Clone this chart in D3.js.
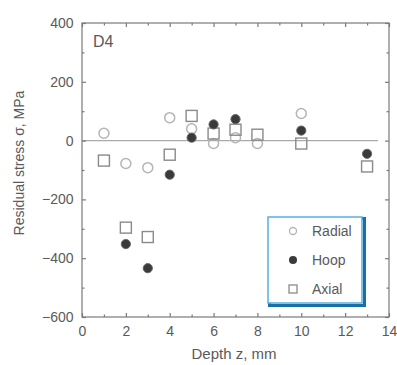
<!DOCTYPE html>
<html>
<head>
<meta charset="utf-8">
<script src="https://cdn.jsdelivr.net/npm/d3@7"></script>
<style>
  body { margin: 0; background: #fff; }
  text { font-family: "Liberation Sans", Arial, sans-serif; fill: #5a5a5a; }
</style>
</head>
<body>
<div id="canvas"></div>
<script>
// values
const radialDepth = [1, 2, 3, 4, 5, 6, 7, 8, 10];
const radialStress = [25, -78, -92, 78, 40, -10, 10, -10, 92];
const hoopDepth = [2, 3, 4, 5, 6, 7, 10, 13];
const hoopStress = [-352, -434, -116, 10, 55, 73, 34, -45];
const axialDepth = [1, 2, 3, 4, 5, 6, 7, 8, 10, 13];
const axialStress = [-68, -296, -328, -48, 84, 24, 37, 20, -10, -88];
const xTicks = [0, 2, 4, 6, 8, 10, 12, 14];
const yTicks = [-600, -400, -200, 0, 200, 400];
const legendNames = ["Radial", "Hoop", "Axial"];

const W = 397, H = 365;
const margin = {left: 82, right: 8, top: 23, bottom: 48};
const width = W - margin.left - margin.right;
const height = H - margin.top - margin.bottom;

const svg = d3.select("#canvas").append("svg")
    .attr("width", W)
    .attr("height", H);
const g = svg.append("g")
    .attr("transform", "translate(" + margin.left + "," + margin.top + ")");

const x = d3.scaleLinear().domain([0, 14]).range([0, width]);
const y = d3.scaleLinear().domain([-600, 400]).range([height, 0]);

const axisColor = "#7a7a7a";

// zero line
g.append("line")
    .attr("x1", x(0)).attr("x2", x(13.5))
    .attr("y1", y(0)).attr("y2", y(0))
    .attr("stroke", "#aaa").attr("stroke-width", 1.2);

// frame
g.append("rect")
    .attr("width", width).attr("height", height)
    .attr("fill", "none").attr("stroke", axisColor).attr("stroke-width", 1.2);

// ticks (inward), major and minor
function drawTicks(axis, scale, values, size, label) {
    let grp = g.append("g");
    let tr = {bottom: [0, height], top: [0, 0], left: [0, 0], right: [width, 0]}[axis];
    grp.attr("transform", "translate(" + tr[0] + "," + tr[1] + ")");
    let ax;
    if (axis == "bottom") ax = d3.axisBottom(scale).tickSize(-size);
    if (axis == "top") ax = d3.axisTop(scale).tickSize(-size);
    if (axis == "left") ax = d3.axisLeft(scale).tickSize(-size);
    if (axis == "right") ax = d3.axisRight(scale).tickSize(-size);
    ax.tickValues(values).tickFormat(label ? d3.format("d") : "").tickPadding(7);
    grp.call(ax);
    grp.select(".domain").remove();
    grp.selectAll("line").attr("stroke", axisColor).attr("stroke-width", 1.2);
    grp.selectAll("text")
        .attr("fill", "#5a5a5a")
        .style("font-family", "'Liberation Sans', Arial, sans-serif")
        .style("font-size", "14px");
    return grp;
}
const xMinor = d3.range(1, 14, 2);
const yMinor = d3.range(-500, 400, 200);

drawTicks("bottom", x, xTicks, 4, true).selectAll("text").attr("dy", "0.85em");
drawTicks("bottom", x, xMinor, 2.5, false);
drawTicks("top", x, xTicks, 4, false);
drawTicks("top", x, xMinor, 2.5, false);
drawTicks("left", y, yTicks, 4, true).selectAll("text").attr("dx", "-0.1em");
drawTicks("left", y, yMinor, 2.5, false);
drawTicks("right", y, yTicks, 4, false);
drawTicks("right", y, yMinor, 2.5, false);

// axis titles
svg.append("text")
    .attr("x", 234)
    .attr("y", H - 6)
    .attr("text-anchor", "middle")
    .style("font-size", "15px")
    .text("Depth z, mm");

svg.append("text")
    .attr("transform", "translate(24,163) rotate(-90)")
    .attr("text-anchor", "middle")
    .style("font-size", "14px")
    .text("Residual stress σ, MPa");

// panel tag
g.append("text")
    .attr("x", 11).attr("y", 24)
    .style("font-size", "16px")
    .text("D4");

// points
const radial = radialDepth.map((d, i) => [d, radialStress[i]]);
const hoop = hoopDepth.map((d, i) => [d, hoopStress[i]]);
const axial = axialDepth.map((d, i) => [d, axialStress[i]]);

g.selectAll(".radial").data(radial).enter().append("circle")
    .attr("class", "radial")
    .attr("cx", d => x(d[0])).attr("cy", d => y(d[1]))
    .attr("r", 5)
    .attr("fill", "none").attr("stroke", "#b5b5b5").attr("stroke-width", 1.5);

g.selectAll(".axial").data(axial).enter().append("rect")
    .attr("class", "axial")
    .attr("x", d => x(d[0]) - 5.5).attr("y", d => y(d[1]) - 5.5)
    .attr("width", 11).attr("height", 11)
    .attr("fill", "none").attr("stroke", "#8a8a8a").attr("stroke-width", 1.4);

g.selectAll(".hoop").data(hoop).enter().append("circle")
    .attr("class", "hoop")
    .attr("cx", d => x(d[0])).attr("cy", d => y(d[1]))
    .attr("r", 4.6)
    .attr("fill", "#3a3a3a").attr("stroke", "#666").attr("stroke-width", 1);

// legend
const lg = svg.append("g").attr("transform", "translate(268,217)");
lg.append("rect")
    .attr("x", 1.5).attr("y", 1.5)
    .attr("width", 95).attr("height", 87)
    .attr("fill", "none").attr("stroke", "#1a6fa8").attr("stroke-width", 3);
lg.append("rect")
    .attr("width", 94).attr("height", 86)
    .attr("fill", "#fff").attr("stroke", "#5aaee0").attr("stroke-width", 1.5);

const rows = lg.selectAll(".row").data(legendNames).enter().append("g")
    .attr("transform", (d, i) => "translate(0," + (14 + i * 29) + ")");
rows.append("text")
    .attr("x", 44).attr("y", 5)
    .style("font-size", "14px")
    .text(d => d);
rows.filter((d, i) => i == 0).append("circle")
    .attr("cx", 25).attr("r", 3.5)
    .attr("fill", "none").attr("stroke", "#b5b5b5").attr("stroke-width", 1.3);
rows.filter((d, i) => i == 1).append("circle")
    .attr("cx", 25).attr("r", 4)
    .attr("fill", "#3a3a3a");
rows.filter((d, i) => i == 2).append("rect")
    .attr("x", 21).attr("y", -4).attr("width", 8).attr("height", 8)
    .attr("fill", "none").attr("stroke", "#8a8a8a").attr("stroke-width", 1.3);
</script>
</body>
</html>
